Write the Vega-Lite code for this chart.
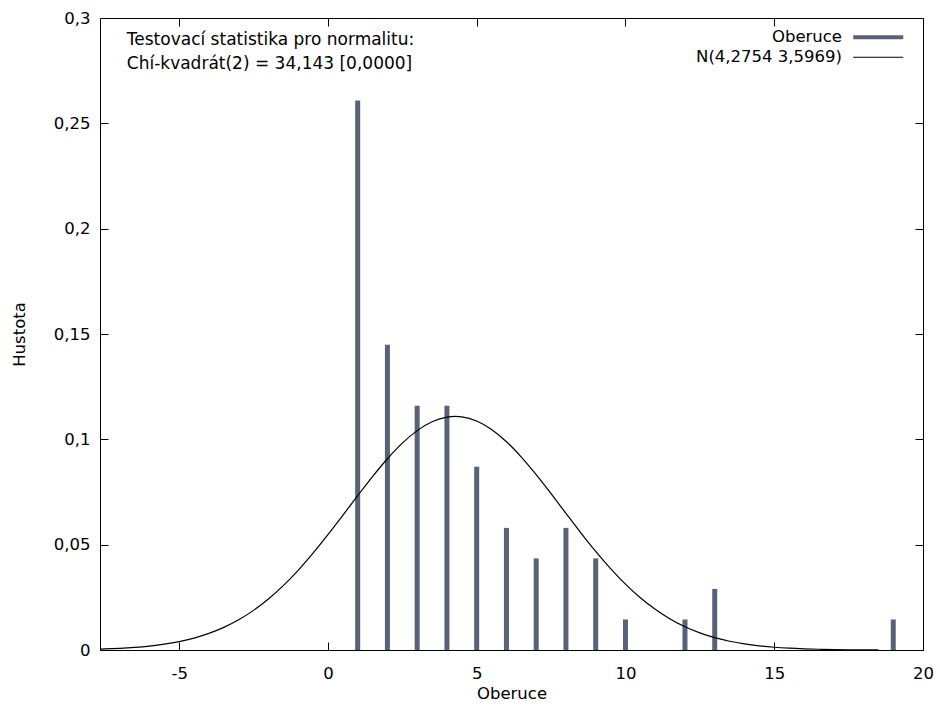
{
  "$schema": "https://vega.github.io/schema/vega-lite/v6.json",
  "width": 823,
  "height": 632,
  "autosize": "none",
  "padding": {"left": 100, "top": 18, "right": 17, "bottom": 59},
  "background": "white",
  "config": {
    "font": "DejaVu Sans",
    "view": {"stroke": "black", "strokeWidth": 1},
    "axis": {"grid": false, "domain": false, "labelFont": "DejaVu Sans", "titleFont": "DejaVu Sans", "labelFontSize": 16.5, "titleFontSize": 16.5, "titleFontWeight": "normal", "labelColor": "black", "titleColor": "black", "tickColor": "black", "labelFlush": false}
  },
  "datasets": {
    "bars": [
      {"x": 1, "d": 0.26087}, {"x": 2, "d": 0.14493}, {"x": 3, "d": 0.11594}, {"x": 4, "d": 0.11594},
      {"x": 5, "d": 0.08696}, {"x": 6, "d": 0.05797}, {"x": 7, "d": 0.04348}, {"x": 8, "d": 0.05797},
      {"x": 9, "d": 0.04348}, {"x": 10, "d": 0.01449}, {"x": 12, "d": 0.01449}, {"x": 13, "d": 0.02899},
      {"x": 19, "d": 0.01449}
    ],
    "curve": [
      {"x": -7.66, "d": 0.000453}, {"x": -7.5, "d": 0.000522}, {"x": -7, "d": 0.000815}, {"x": -6.5, "d": 0.001248},
      {"x": -6, "d": 0.001875}, {"x": -5.5, "d": 0.002762}, {"x": -5, "d": 0.00399}, {"x": -4.5, "d": 0.005655},
      {"x": -4, "d": 0.007862}, {"x": -3.5, "d": 0.010722}, {"x": -3, "d": 0.01434}, {"x": -2.5, "d": 0.018812},
      {"x": -2, "d": 0.024208}, {"x": -1.5, "d": 0.030556}, {"x": -1, "d": 0.03783}, {"x": -0.5, "d": 0.04594},
      {"x": 0, "d": 0.05472}, {"x": 0.5, "d": 0.06393}, {"x": 1, "d": 0.07326}, {"x": 1.5, "d": 0.08235},
      {"x": 2, "d": 0.09079}, {"x": 2.5, "d": 0.09818}, {"x": 3, "d": 0.10414}, {"x": 3.5, "d": 0.10835},
      {"x": 4, "d": 0.11058}, {"x": 4.2754, "d": 0.1109}, {"x": 4.5, "d": 0.11068}, {"x": 5, "d": 0.10867},
      {"x": 5.5, "d": 0.10466}, {"x": 6, "d": 0.09886}, {"x": 6.5, "d": 0.0916}, {"x": 7, "d": 0.08324},
      {"x": 7.5, "d": 0.0742}, {"x": 8, "d": 0.06488}, {"x": 8.5, "d": 0.05564}, {"x": 9, "d": 0.0468},
      {"x": 9.5, "d": 0.03862}, {"x": 10, "d": 0.03125}, {"x": 10.5, "d": 0.02481}, {"x": 11, "d": 0.01932},
      {"x": 11.5, "d": 0.01475}, {"x": 12, "d": 0.01105}, {"x": 12.5, "d": 0.00812}, {"x": 13, "d": 0.005853},
      {"x": 13.5, "d": 0.004138}, {"x": 14, "d": 0.002869}, {"x": 14.5, "d": 0.001952}, {"x": 15, "d": 0.001302},
      {"x": 15.5, "d": 0.000852}, {"x": 16, "d": 0.000547}, {"x": 16.5, "d": 0.000344}, {"x": 17, "d": 0.000212},
      {"x": 17.5, "d": 0.000129}, {"x": 18, "d": 0.0000764}, {"x": 18.5, "d": 0.0000445}
    ]
  },
  "resolve": {"axis": {"x": "independent", "y": "independent"}},
  "layer": [
    {
      "data": {"name": "bars"},
      "mark": {"type": "rule", "strokeWidth": 5, "strokeCap": "butt"},
      "encoding": {
        "x": {"field": "x", "type": "quantitative", "scale": {"domain": [-7.66, 20], "nice": false, "zero": false},
          "axis": {"orient": "bottom", "title": "Oberuce", "values": [-5, 0, 5, 10, 15, 20], "tickSize": -8, "labelPadding": 23, "titlePadding": 4, "labelExpr": "toString(datum.value)"}},
        "y": {"field": "d", "type": "quantitative", "scale": {"domain": [0, 0.3], "nice": false},
          "axis": {"orient": "left", "title": "Hustota", "values": [0, 0.05, 0.1, 0.15, 0.2, 0.25, 0.3], "tickSize": -8, "labelPadding": 18, "titlePadding": 26, "labelExpr": "replace(toString(datum.value), '.', ',')"}},
        "y2": {"datum": 0},
        "color": {"datum": "Oberuce", "type": "nominal",
          "scale": {"domain": ["Oberuce", "N(4,2754 3,5969)"], "range": ["#596276", "black"]},
          "legend": {"orient": "top-right", "title": null, "offset": 11, "symbolType": "stroke", "symbolSize": 2500, "labelFontSize": 16.5, "labelFont": "DejaVu Sans", "labelColor": "black", "labelAlign": "right", "rowPadding": 3, "padding": 0,
            "encode": {"labels": {"update": {"x": {"value": -28}}}, "symbols": {"update": {"strokeWidth": {"signal": "datum.value === 'Oberuce' ? 4 : 1"}}}}}}
      }
    },
    {
      "data": {"name": "curve"},
      "mark": {"type": "line", "strokeWidth": 1.2, "interpolate": "monotone"},
      "encoding": {
        "x": {"field": "x", "type": "quantitative", "axis": {"orient": "top", "title": null, "values": [-5, 0, 5, 10, 15, 20], "tickSize": -8, "labels": false}},
        "y": {"field": "d", "type": "quantitative", "axis": {"orient": "right", "title": null, "values": [0, 0.05, 0.1, 0.15, 0.2, 0.25, 0.3], "tickSize": -8, "labels": false}},
        "color": {"datum": "N(4,2754 3,5969)", "type": "nominal"}
      }
    },
    {
      "data": {"values": [{"t": ["Testovací statistika pro normalitu:", "Chí-kvadrát(2) = 34,143 [0,0000]"]}]},
      "mark": {"type": "text", "align": "left", "baseline": "middle", "fontSize": 17, "lineHeight": 24, "color": "black"},
      "encoding": {
        "x": {"datum": -6.76, "axis": null},
        "y": {"datum": 0.2896, "axis": null},
        "text": {"field": "t"}
      }
    }
  ]
}
